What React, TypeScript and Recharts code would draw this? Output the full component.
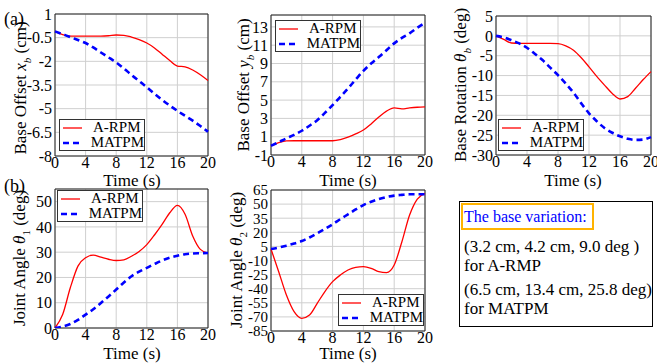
import React from 'react';
import { LineChart, Line, XAxis, YAxis, CartesianGrid, ReferenceArea } from 'recharts';

const FONT = '"Liberation Serif", "Times New Roman", serif';

// time samples (s)
const time = [0, 1, 2, 3, 4, 5, 6, 7, 8, 9, 10, 11, 12, 13, 14, 15, 16, 17, 18, 19, 20];
const timeTicks = [0, 4, 8, 12, 16, 20];

// base offset x_b (cm)
const xbRpm = [-0.1, -0.3, -0.4, -0.4, -0.4, -0.4, -0.4, -0.38, -0.33, -0.35, -0.46, -0.62, -0.84, -1.15, -1.55, -1.95, -2.3, -2.35, -2.55, -2.85, -3.22];
const xbMat = [-0.1, -0.28, -0.46, -0.65, -0.84, -1.12, -1.44, -1.75, -2.07, -2.45, -2.86, -3.25, -3.64, -4.05, -4.44, -4.8, -5.14, -5.45, -5.76, -6.1, -6.46];
const xbTicks = [-8, -6.5, -5, -3.5, -2, -0.5, 1];

// base offset y_b (cm)
const ybRpm = [0, 0.35, 0.55, 0.56, 0.56, 0.56, 0.56, 0.56, 0.56, 0.68, 0.95, 1.3, 1.73, 2.4, 3.15, 3.8, 4.15, 4.05, 4.15, 4.22, 4.25];
const ybMat = [0, 0.4, 0.82, 1.2, 1.65, 2.2, 2.8, 3.6, 4.45, 5.35, 6.27, 7.25, 8.2, 9.0, 9.7, 10.45, 11.2, 11.8, 12.3, 12.9, 13.45];
const ybTicks = [-1, 1, 3, 5, 7, 9, 11, 13];

// base rotation theta_b (deg)
const thbRpm = [0, -0.9, -1.8, -1.9, -1.9, -1.9, -1.9, -1.9, -1.95, -2.5, -3.6, -5.5, -7.8, -10.2, -12.4, -14.5, -15.9, -15.3, -13.2, -11, -9.0];
const thbMat = [0, -0.4, -1.1, -1.9, -3.0, -4.5, -6.1, -8.0, -9.9, -12.0, -14.3, -17.0, -19.5, -21.5, -23.2, -24.4, -25.3, -25.9, -26.2, -26.1, -25.5];
const thbTicks = [-30, -25, -20, -15, -10, -5, 0, 5];

// joint angle theta_1 (deg)
const th1Rpm = [0, 5.3, 15.9, 24.5, 27.8, 28.8, 28.0, 27.2, 26.7, 27.0, 28.4, 30.3, 33, 36.8, 41, 45.6, 48.5, 45, 36.4, 31.1, 29.6];
const th1Mat = [0, 0.6, 1.6, 3.2, 5.3, 7.4, 9.9, 12.5, 15.2, 18, 20.5, 22.3, 23.8, 25.3, 26.7, 27.8, 28.6, 29.2, 29.5, 29.6, 29.7];
const th1Ticks = [0, 10, 20, 30, 40, 50];

// joint angle theta_2 (deg)
const th2Rpm = [2.2, -21.9, -46.7, -64.4, -71.5, -68, -55.6, -43, -32.5, -25.5, -20.1, -17.3, -16.6, -18.3, -21.9, -22.9, -14.8, 10, 38.4, 55.4, 61.5];
const th2Mat = [2.2, 3.8, 5.8, 8, 10.7, 14.5, 18.9, 23.5, 28.5, 34, 39.1, 44.3, 49, 52.5, 55.4, 57.5, 59, 59.8, 60.4, 60.5, 60.5];
const th2Ticks = [-85, -70, -55, -40, -25, -10, 5, 20, 35, 50, 65];

const LegendBox = ({ x, y }: { x: number; y: number }) => (
  <div style={{ position: 'absolute', left: x, top: y, width: 84, height: 30, border: '1px solid #333', background: '#fff', fontFamily: FONT, fontSize: 15, lineHeight: '15px' }}>
    <div style={{ display: 'flex', alignItems: 'center', height: 15 }}>
      <svg width={30} height={15}><line x1={3} y1={8} x2={22} y2={8} stroke="#ff0000" strokeWidth={1.3} /></svg>
      <span style={{ marginLeft: 3 }}>A-RPM</span>
    </div>
    <div style={{ display: 'flex', alignItems: 'center', height: 15 }}>
      <svg width={30} height={15}><line x1={3} y1={8} x2={22} y2={8} stroke="#0000ff" strokeWidth={2.6} strokeDasharray="6 4" /></svg>
      <span style={{ marginLeft: 3 }}>MATPM</span>
    </div>
  </div>
);

const YLabel = ({ x, y, children }: { x: number; y: number; children: React.ReactNode }) => (
  <div style={{ position: 'absolute', left: x, top: y, transform: 'translate(-50%, -50%) rotate(-90deg)', whiteSpace: 'nowrap', fontFamily: FONT, fontSize: 17 }}>
    {children}
  </div>
);

const TimeLabel = ({ x, y }: { x: number; y: number }) => (
  <div style={{ position: 'absolute', left: x, top: y, transform: 'translate(-50%, -50%)', whiteSpace: 'nowrap', fontFamily: FONT, fontSize: 17, lineHeight: '15px' }}>
    Time (s)
  </div>
);

interface PanelProps {
  rpm: number[];
  mat: number[];
  domain: [number, number];
  ticks: number[];
  px: number; py: number; pw: number; ph: number;
  fs?: number;
}

const Panel = ({ rpm, mat, domain, ticks, px, py, pw, ph, fs = 16 }: PanelProps) => {
  const data = time.map((t, i) => ({ t, rpm: rpm[i], mat: mat[i] }));
  const tickStyle = { fill: '#000', fontSize: fs, fontFamily: FONT };
  return (
    <div style={{ position: 'absolute', left: px - 45, top: py - 10 }}>
      <LineChart width={pw + 55} height={ph + 50} data={data} margin={{ top: 10, right: 10, left: 0, bottom: 0 }}>
        <CartesianGrid stroke="#cfcfcf" />
        <XAxis dataKey="t" type="number" domain={[0, 20]} ticks={timeTicks} interval={0} tick={{ ...tickStyle, fontSize: 16 }} tickSize={0} tickMargin={1} axisLine={false} height={40} />
        <YAxis type="number" domain={domain} ticks={ticks} interval={0} tick={tickStyle} tickSize={0} tickMargin={3} axisLine={false} width={45} allowDataOverflow />
        <ReferenceArea x1={0} x2={20} y1={domain[0]} y2={domain[1]} fill="none" stroke="#222" strokeWidth={1} />
        <Line dataKey="rpm" type="monotone" stroke="#ff0000" strokeWidth={1.3} dot={false} isAnimationActive={false} />
        <Line dataKey="mat" type="monotone" stroke="#0000ff" strokeWidth={2.6} strokeDasharray="6 4" dot={false} isAnimationActive={false} />
      </LineChart>
    </div>
  );
};

export default function App() {
  return (
    <div style={{ position: 'absolute', left: 0, top: 0, width: 657, height: 363, background: '#fff', overflow: 'hidden', fontFamily: FONT }}>
      <Panel rpm={xbRpm} mat={xbMat} domain={[-8, 1]} ticks={xbTicks} px={55} py={14} pw={153} ph={142} />
      <Panel rpm={ybRpm} mat={ybMat} domain={[-1, 14.3]} ticks={ybTicks} px={271} py={15} pw={154} ph={140} />
      <Panel rpm={thbRpm} mat={thbMat} domain={[-30, 5]} ticks={thbTicks} px={496} py={16} pw={155} ph={139} />
      <Panel rpm={th1Rpm} mat={th1Mat} domain={[0, 55]} ticks={th1Ticks} px={55} py={189} pw={153} ph={139} />
      <Panel rpm={th2Rpm} mat={th2Mat} domain={[-85, 65]} ticks={th2Ticks} px={271} py={190} pw={154} ph={141} fs={15} />

      <LegendBox x={59} y={119} />
      <LegendBox x={275} y={20} />
      <LegendBox x={498} y={119} />
      <LegendBox x={57} y={190} />
      <LegendBox x={338} y={294} />

      <YLabel x={22} y={88}>Base Offset <i>x</i><sub style={{ fontSize: 11 }}><i>b</i></sub> (cm)</YLabel>
      <YLabel x={245} y={85}>Base Offset <i>y</i><sub style={{ fontSize: 11 }}><i>b</i></sub> (cm)</YLabel>
      <YLabel x={462} y={85}>Base Rotation <i>θ</i><sub style={{ fontSize: 11 }}><i>b</i></sub> (deg)</YLabel>
      <YLabel x={21} y={258}>Joint Angle <i>θ</i><sub style={{ fontSize: 11 }}>1</sub> (deg)</YLabel>
      <YLabel x={238} y={260}>Joint Angle <i>θ</i><sub style={{ fontSize: 11 }}>2</sub> (deg)</YLabel>

      <TimeLabel x={132} y={180} />
      <TimeLabel x={348} y={180} />
      <TimeLabel x={573} y={180} />
      <TimeLabel x={132} y={353} />
      <TimeLabel x={348} y={353} />

      <div style={{ position: 'absolute', left: 4, top: 9, fontSize: 18 }}>(a)</div>
      <div style={{ position: 'absolute', left: 4, top: 176, fontSize: 18 }}>(b)</div>

      <div style={{ position: 'absolute', left: 459, top: 201, width: 192, height: 124, border: '1px solid #000', fontSize: 17, lineHeight: '19px' }}>
        <div style={{ position: 'absolute', left: 1, top: 1, width: 128, height: 23, border: '2px solid #ffb300', color: '#0000ff', paddingLeft: 1, lineHeight: '23px', fontSize: 16, whiteSpace: 'nowrap' }}>The base variation:</div>
        <div style={{ position: 'absolute', left: 4, top: 35, whiteSpace: 'nowrap' }}>(3.2 cm, 4.2 cm, 9.0 deg )<br />for A-RMP</div>
        <div style={{ position: 'absolute', left: 4, top: 78, whiteSpace: 'nowrap' }}>(6.5 cm, 13.4 cm, 25.8 deg)<br />for MATPM</div>
      </div>
    </div>
  );
}
